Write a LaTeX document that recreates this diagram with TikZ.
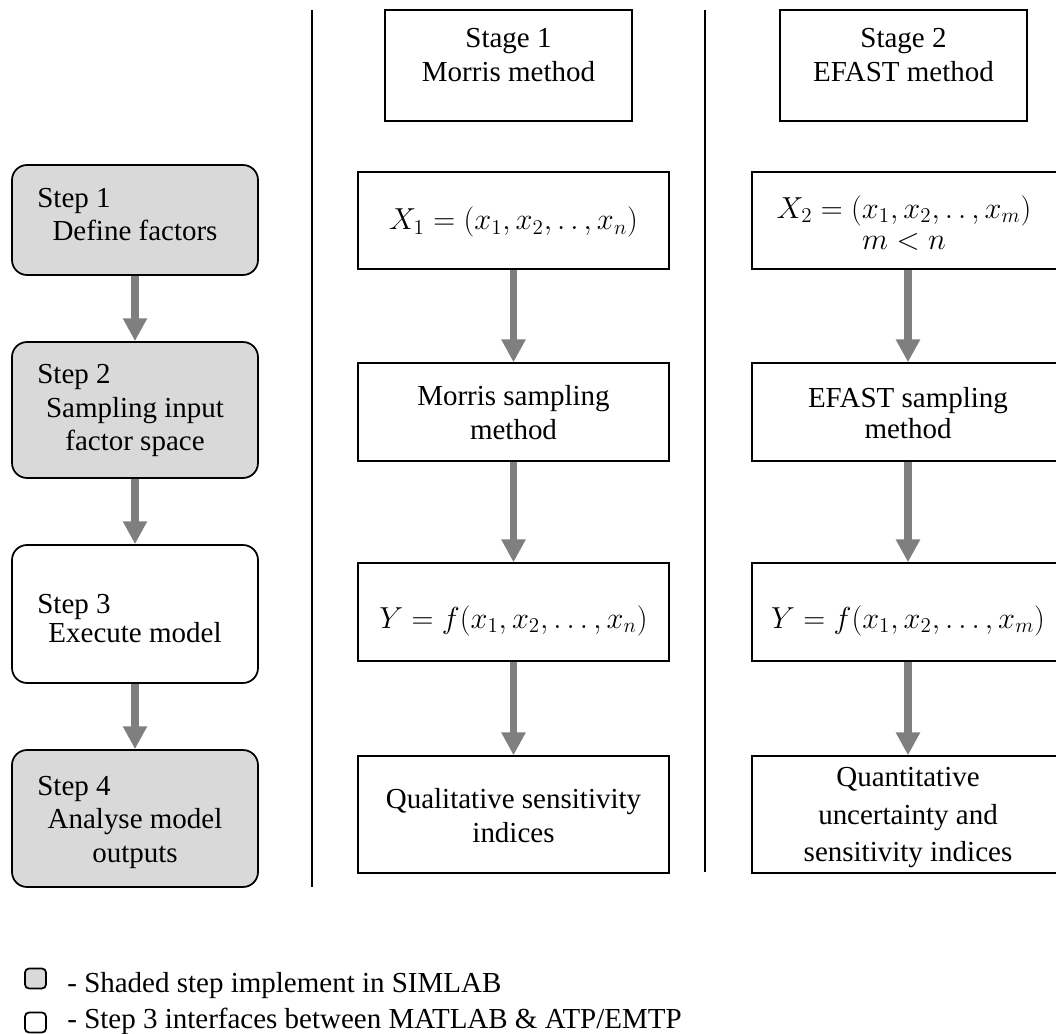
\documentclass[tikz,border=0pt]{standalone}
\usepackage{fontspec}
\setmainfont{Liberation Serif}
\usetikzlibrary{arrows.meta}
\definecolor{shade}{HTML}{D9D9D9}
\definecolor{arrowgray}{HTML}{7F7F7F}
\tikzset{
  stepbox/.style={draw=black, line width=1pt, rounded corners=0.3cm, inner sep=0pt, minimum width=4.92cm},
  plainbox/.style={draw=black, line width=0.8pt, inner sep=0pt, minimum width=6.22cm},
  rightbox/.style={draw=black, line width=0.8pt, inner sep=0pt, minimum width=6.24cm},
  stagebox/.style={draw=black, line width=1.2pt, inner sep=0pt, minimum width=4.94cm, minimum height=2.22cm},
  legbox/.style={draw=black, line width=1pt, rounded corners=0.08cm, inner sep=0pt, minimum width=0.42cm, minimum height=0.4cm},
  txt/.style={anchor=base, inner sep=0pt, font=\fontsize{16.5}{19}\selectfont},
  flow/.style={draw=arrowgray, line width=4.5pt, -{Triangle[width=13pt,length=13pt,fill=arrowgray]}},
  divider/.style={draw=black, line width=0.85pt}
}
\begin{document}
\begin{tikzpicture}[x=0.02cm,y=-0.02cm]
\useasboundingbox (0,0) rectangle (1056,1034);
\clip (0,0) rectangle (1056,1034);

% dividers
\draw[divider] (312,10) -- (312,887);
\draw[divider] (705,10) -- (705,872);

% left column (steps)
\node[stepbox, fill=shade, minimum height=2.2cm]  (s1) at (135,220) {};
\node[stepbox, fill=shade, minimum height=2.72cm] (s2) at (135,410) {};
\node[stepbox, fill=white, minimum height=2.76cm] (s3) at (135,614) {};
\node[stepbox, fill=shade, minimum height=2.74cm] (s4) at (135,818.5) {};

\node[txt, anchor=base west] (s1a) at (37,208) {Step 1};
\node[txt] (s1b) at (135,240) {Define factors};
\node[txt, anchor=base west] (s2a) at (37,383) {Step 2};
\node[txt] (s2b) at (135,417) {Sampling input};
\node[txt] (s2c) at (135,450) {factor space};
\node[txt, anchor=base west] (s3a) at (37,613) {Step 3};
\node[txt] (s3b) at (135,642) {Execute model};
\node[txt, anchor=base west] (s4a) at (37,795) {Step 4};
\node[txt] (s4b) at (135,828) {Analyse model};
\node[txt] (s4c) at (135,862) {outputs};

% stage headers
\node[stagebox] (st1) at (508.5,65.5) {};
\node[txt] (st1a) at (508.5,48) {Stage 1};
\node[txt] (st1b) at (508.5,82) {Morris method};
\node[stagebox] (st2) at (903.5,65.5) {};
\node[txt] (st2a) at (903.5,48) {Stage 2};
\node[txt] (st2b) at (903.5,82) {EFAST method};

% middle column
\node[plainbox, minimum height=1.94cm] (m1) at (513.5,220.5) {};
\node[plainbox, minimum height=1.96cm] (m2) at (513.5,412) {};
\node[plainbox, minimum height=1.96cm] (m3) at (513.5,612) {};
\node[plainbox, minimum height=2.34cm] (m4) at (513.5,814.5) {};
\node[txt] (m1a) at (513.5,230) {$X_1=(x_1,x_2,\ldotp\ldotp,x_n)$};
\node[txt] (m2a) at (513.5,405) {Morris sampling};
\node[txt] (m2b) at (513.5,439) {method};
\node[txt] (m3a) at (513.5,628) {$Y=f(x_1,x_2,\ldots,x_n)$};
\node[txt] (m4a) at (513.5,808) {Qualitative sensitivity};
\node[txt] (m4b) at (513.5,842) {indices};

% right column
\node[rightbox, minimum height=1.94cm] (r1) at (908,220.5) {};
\node[rightbox, minimum height=1.96cm] (r2) at (908,412) {};
\node[rightbox, minimum height=1.96cm] (r3) at (908,612) {};
\node[rightbox, minimum height=2.34cm] (r4) at (908,814.5) {};
\node[txt] (r1a) at (904,218) {$X_2=(x_1,x_2,\ldotp\ldotp,x_m)$};
\node[txt] (r1b) at (904,250) {$m<n$};
\node[txt] (r2a) at (908,407) {EFAST sampling};
\node[txt] (r2b) at (908,438) {method};
\node[txt] (r3a) at (908,628) {$Y=f(x_1,x_2,\ldots,x_m)$};
\node[txt] (r4a) at (908,786) {Quantitative};
\node[txt] (r4b) at (908,824) {uncertainty and};
\node[txt] (r4c) at (908,861) {sensitivity indices};

% arrows
\draw[flow] (s1.south) -- (s2.north);
\draw[flow] (s2.south) -- (s3.north);
\draw[flow] (s3.south) -- (s4.north);
\draw[flow] (m1.south) -- (m2.north);
\draw[flow] (m2.south) -- (m3.north);
\draw[flow] (m3.south) -- (m4.north);
\draw[flow] (r1.south) -- (r2.north);
\draw[flow] (r2.south) -- (r3.north);
\draw[flow] (r3.south) -- (r4.north);

% legend
\node[legbox, fill=shade] (lg1) at (35.5,978.5) {};
\node[legbox, fill=white] (lg2) at (35.5,1022.5) {};
\node[txt, anchor=base west] (lt1) at (67,992) {- Shaded step implement in SIMLAB};
\node[txt, anchor=base west] (lt2) at (67,1028) {- Step 3 interfaces between MATLAB \& ATP/EMTP};
\end{tikzpicture}
\end{document}
